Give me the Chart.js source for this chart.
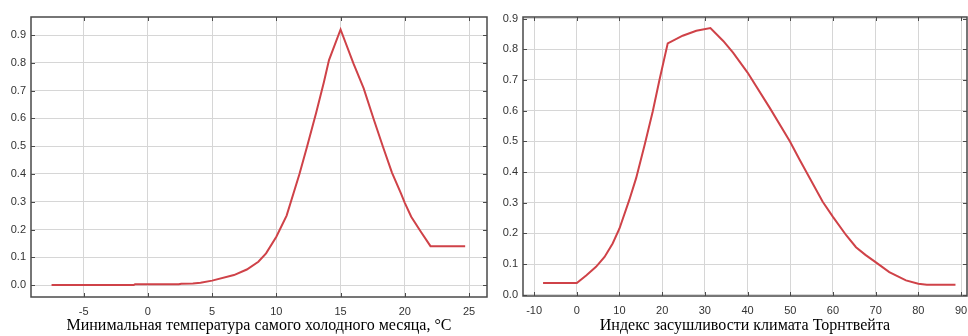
<!DOCTYPE html>
<html>
<head>
<meta charset="utf-8">
<script src="https://cdn.jsdelivr.net/npm/chart.js@4"></script>
<style>
  body { margin: 0; background: #fff; width: 968px; height: 336px; position: relative; overflow: hidden; }
  canvas { position: absolute; top: 0; }
  #c1 { left: 0; }
  #c2 { left: 492px; }
</style>
</head>
<body>
<canvas id="c1" width="492" height="336"></canvas>
<canvas id="c2" width="476" height="336"></canvas>
<script>
// left panel: min temperature of coldest month
const tempX = [-7.5, -1.1, -1.0, 2.4, 2.6, 3.5, 4.1, 5.0, 6.7, 7.7, 8.6, 9.2, 10.0, 10.8, 11.8, 12.4, 13.1, 13.7, 14.1, 15.0, 16.0, 16.8, 17.6, 18.3, 19.0, 19.7, 20.0, 20.5, 21.25, 22.0, 24.7];
const tempY = [0.0, 0.0, 0.003, 0.003, 0.005, 0.006, 0.008, 0.016, 0.036, 0.056, 0.084, 0.114, 0.174, 0.25, 0.4, 0.5, 0.62, 0.73, 0.81, 0.92, 0.798, 0.708, 0.594, 0.498, 0.405, 0.33, 0.296, 0.246, 0.192, 0.14, 0.14];
const tempTicks = [-5, 0, 5, 10, 15, 20, 25];

// right panel: Thornthwaite aridity index
const aridX = [-7.9, 0, 2.2, 4.5, 6.5, 8.4, 10.0, 12.3, 13.9, 15.9, 17.8, 19.4, 21.3, 24.8, 28.0, 31.3, 34.3, 36.6, 40.0, 45.2, 49.9, 52.2, 57.6, 60.0, 63.1, 65.4, 67.6, 69.9, 73.2, 77.1, 80.0, 82.0, 88.7];
const aridY = [0.038, 0.038, 0.063, 0.091, 0.123, 0.167, 0.216, 0.309, 0.38, 0.489, 0.598, 0.702, 0.819, 0.844, 0.86, 0.869, 0.827, 0.789, 0.724, 0.609, 0.5, 0.44, 0.303, 0.254, 0.194, 0.155, 0.13, 0.107, 0.074, 0.047, 0.036, 0.033, 0.033];
const aridTicks = [-10, 0, 10, 20, 30, 40, 50, 60, 70, 80, 90];

const yTicks = [0, 0.1, 0.2, 0.3, 0.4, 0.5, 0.6, 0.7, 0.8, 0.9];

const titles = ["Минимальная температура самого холодного месяца, °C", "Индекс засушливости климата Торнтвейта"];

// frame + inward tick marks
const framePlugin = {
  id: "frame",
  afterDraw(chart) {
    const ctx = chart.ctx;
    const a = chart.chartArea;
    ctx.save();
    ctx.strokeStyle = "#4a4a4a";
    ctx.lineWidth = 1.5;
    ctx.strokeRect(a.left, a.top, a.right - a.left, a.bottom - a.top);
    ctx.lineWidth = 1;
    ctx.beginPath();
    chart.scales.x.ticks.forEach(t => {
      const px = Math.round(chart.scales.x.getPixelForValue(t.value)) + 0.5;
      ctx.moveTo(px, a.top); ctx.lineTo(px, a.top + 4);
      ctx.moveTo(px, a.bottom); ctx.lineTo(px, a.bottom - 4);
    });
    chart.scales.y.ticks.forEach(t => {
      const py = Math.round(chart.scales.y.getPixelForValue(t.value)) + 0.5;
      ctx.moveTo(a.left, py); ctx.lineTo(a.left + 4, py);
      ctx.moveTo(a.right, py); ctx.lineTo(a.right - 4, py);
    });
    ctx.stroke();
    ctx.restore();
  }
};

function makeChart(id, xs, ys, xTicks, xmin, xmax, ymin, ymax, title, rightPad, xHeight) {
  const pts = xs.map((x, i) => ({ x: x, y: ys[i] }));
  return new Chart(document.getElementById(id), {
    type: "line",
    data: {
      datasets: [{
        data: pts,
        borderColor: "#cf4248",
        borderWidth: 2,
        pointRadius: 0,
        tension: 0,
        fill: false
      }]
    },
    options: {
      responsive: false,
      animation: false,
      devicePixelRatio: 1,
      layout: { padding: { top: 17, right: rightPad, left: 0, bottom: 0 } },
      plugins: { legend: { display: false }, tooltip: { enabled: false } },
      scales: {
        x: {
          type: "linear",
          min: xmin,
          max: xmax,
          afterBuildTicks: s => { s.ticks = xTicks.map(v => ({ value: v })); },
          afterFit: s => { s.height = xHeight; s.paddingLeft = 0; s.paddingRight = 0; },
          grid: { color: "#d6d6d6", lineWidth: 1, drawTicks: false },
          border: { display: false },
          ticks: { color: "#333", padding: 8, font: { family: "Liberation Sans", size: 11 }, maxRotation: 0 },
          title: {
            display: true,
            text: title,
            color: "#000",
            padding: { top: 0, bottom: 1 },
            font: { family: "Liberation Serif", size: 16 }
          }
        },
        y: {
          min: ymin,
          max: ymax,
          afterBuildTicks: s => { s.ticks = yTicks.map(v => ({ value: v })); },
          afterFit: s => { s.width = 31; s.paddingTop = 0; s.paddingBottom = 0; },
          grid: { color: "#d6d6d6", lineWidth: 1, drawTicks: false },
          border: { display: false },
          ticks: {
            color: "#333",
            padding: 5,
            font: { family: "Liberation Sans", size: 11 },
            callback: v => v.toFixed(1)
          }
        }
      }
    },
    plugins: [framePlugin]
  });
}

makeChart("c1", tempX, tempY, tempTicks, -9.1, 26.4, -0.043, 0.965, titles[0], 5, 39);
makeChart("c2", aridX, aridY, aridTicks, -12.6, 91.4, -0.004, 0.905, titles[1], 1, 40);
</script>
</body>
</html>
